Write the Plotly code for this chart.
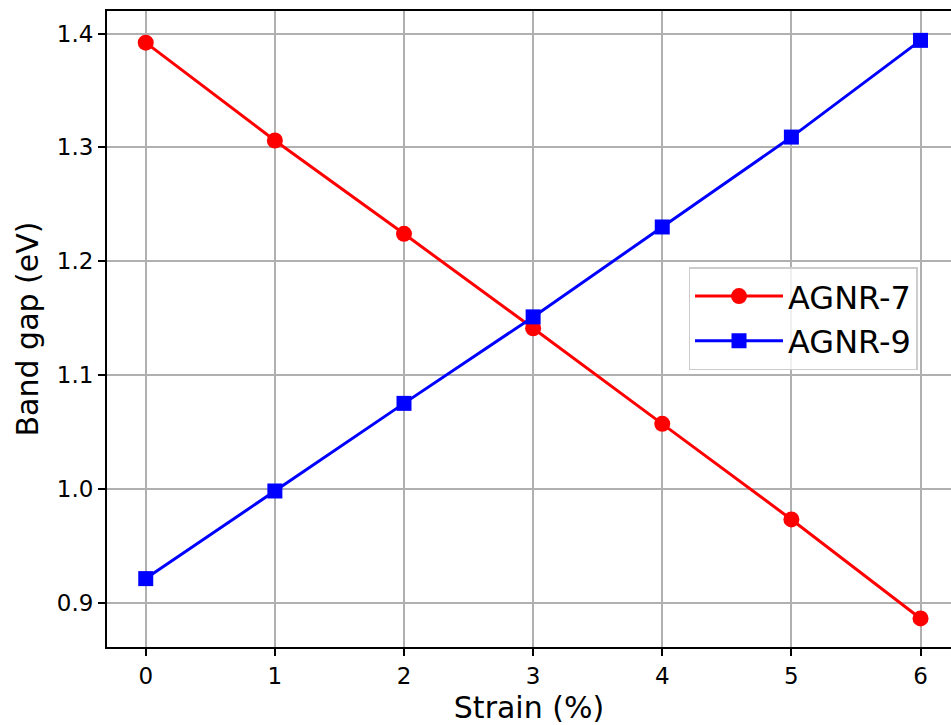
import plotly.graph_objects as go

strain = [0, 1, 2, 3, 4, 5, 6]
agnr7 = [1.392, 1.306, 1.224, 1.141, 1.057, 0.973, 0.886]
agnr9 = [0.921, 0.998, 1.075, 1.151, 1.230, 1.309, 1.394]
xticks = [0, 1, 2, 3, 4, 5, 6]
yticks = [0.9, 1.0, 1.1, 1.2, 1.3, 1.4]

FONT = "DejaVu Sans"

fig = go.Figure()
fig.add_trace(go.Scatter(x=strain, y=agnr7, mode="lines+markers", name="AGNR-7",
                         line=dict(color="#ff0000", width=3),
                         marker=dict(symbol="circle", size=16, color="#ff0000")))
fig.add_trace(go.Scatter(x=strain, y=agnr9, mode="lines+markers", name="AGNR-9",
                         line=dict(color="#0000ff", width=3),
                         marker=dict(symbol="square", size=15, color="#0000ff")))

fig.update_layout(
    width=951, height=725,
    margin=dict(l=106.5, r=0, t=11, b=78),
    plot_bgcolor="white", paper_bgcolor="white",
    font=dict(family=FONT, color="black"),
    showlegend=True,
    legend=dict(x=0.689, y=0.597, xanchor="left", yanchor="top",
                bgcolor="rgba(255,255,255,0.8)", bordercolor="#cccccc", borderwidth=1.5,
                font=dict(size=32, family=FONT), itemwidth=88, tracegroupgap=4),
    xaxis=dict(range=[-0.3, 6.236], tickvals=xticks, ticktext=[str(v) for v in xticks],
               showgrid=True, gridcolor="#b0b0b0", gridwidth=1.5,
               showline=True, linecolor="black", linewidth=2, mirror=True,
               ticks="outside", ticklen=7, tickwidth=2, tickcolor="black",
               tickfont=dict(size=23, family=FONT), zeroline=False,
               title=dict(text="Strain (%)", font=dict(size=30, family=FONT), standoff=10)),
    yaxis=dict(range=[0.8609, 1.4198], tickvals=yticks, ticktext=[f"{v:.1f}" for v in yticks],
               showgrid=True, gridcolor="#b0b0b0", gridwidth=1.5,
               showline=True, linecolor="black", linewidth=2, mirror=False,
               ticks="outside", ticklen=7, tickwidth=2, tickcolor="black",
               tickfont=dict(size=23, family=FONT), zeroline=False,
               title=dict(text="Band gap (eV)", font=dict(size=30, family=FONT), standoff=9)),
)

fig.write_html("out.html")
